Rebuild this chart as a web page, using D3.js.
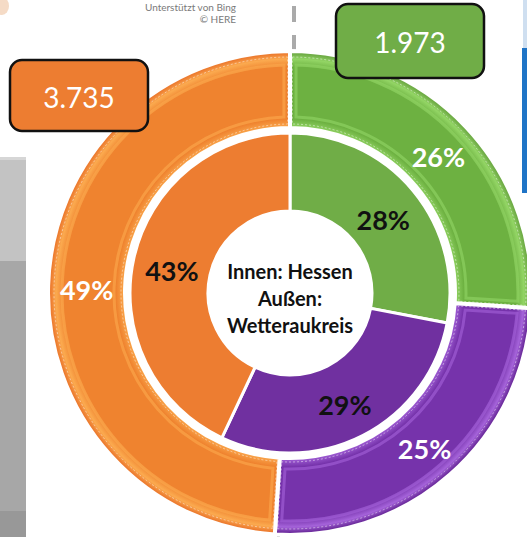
<!DOCTYPE html>
<html><head><meta charset="utf-8">
<script src="https://cdn.jsdelivr.net/npm/d3@7"></script>
<style>html,body{margin:0;padding:0;background:#fff;overflow:hidden}</style>
</head><body>
<svg id="chart" width="527" height="537"></svg>
<script>
// ---- data ----
const categories = ["Kategorie 1", "Kategorie 2", "Kategorie 3"]; // green, purple, orange (clockwise from top)
const innerValues = [28, 29, 43];   // Innen: Hessen (%)
const outerValues = [26, 25, 49];   // Außen: Wetteraukreis (%)
const outerTotals = ["1.973", null, "3.735"];
const centerLines = ["Innen: Hessen", "Außen:", "Wetteraukreis"];
const attribution = ["Unterstützt von Bing", "© HERE"];

const baseColors = ["#70AD47", "#7030A0", "#ED7D31"];
const edgeColors = ["#93D565", "#A563DA", "#FBAA4F"];
const panelColors = ["#6DB141", "#7633AB", "#EF832F"];

const svg = d3.select("#chart");
const cx = 290, cy = 293;
const rHole = 82, rInner = 160, rOuterIn = 165, rOuterOut = 242;

// ---- background page elements ----
svg.append("rect").attr("x", 0).attr("y", 157).attr("width", 26).attr("height", 104).attr("fill", "#c3c3c3");
svg.append("rect").attr("x", 0).attr("y", 157).attr("width", 26).attr("height", 3).attr("fill", "#d6d6d6");
svg.append("rect").attr("x", 0).attr("y", 261).attr("width", 26).attr("height", 250).attr("fill", "#a7a7a7");
svg.append("rect").attr("x", 0).attr("y", 511).attr("width", 26).attr("height", 26).attr("fill", "#989898");
svg.append("rect").attr("x", 523).attr("y", 0).attr("width", 4).attr("height", 48).attr("fill", "#cfdff0");
svg.append("rect").attr("x", 522).attr("y", 48).attr("width", 5).attr("height", 145).attr("fill", "#1f74c6");
svg.append("ellipse").attr("cx", 2).attr("cy", 6).attr("rx", 7).attr("ry", 9).attr("fill", "#f3d2b8").attr("opacity", 0.8);
svg.append("rect").attr("x", 292).attr("y", 6).attr("width", 4).attr("height", 16).attr("fill", "#aaaaaa");
svg.append("rect").attr("x", 292).attr("y", 35).attr("width", 4).attr("height", 16).attr("fill", "#aaaaaa");
svg.append("rect").attr("x", 277).attr("y", 528).attr("width", 3).attr("height", 9).attr("fill", "#aaaaaa");
svg.selectAll("text.attr").data(attribution).join("text")
  .attr("x", 236).attr("y", (d, i) => 11 + i * 12)
  .attr("text-anchor", "end")
  .attr("font-family", "Lato, 'Open Sans', sans-serif").attr("font-size", 10)
  .attr("fill", "#7a7a7a").text(d => d);

// ---- defs: radial gradients for beveled outer ring (group coordinates) ----
const defs = svg.append("defs");
categories.forEach((c, i) => {
  const gr = defs.append("radialGradient").attr("id", "grad" + i)
    .attr("gradientUnits", "userSpaceOnUse")
    .attr("cx", 0).attr("cy", 0).attr("r", rOuterOut);
  const stops = [
    [rOuterIn / rOuterOut, edgeColors[i]],
    [(rOuterIn + 9) / rOuterOut, panelColors[i]],
    [(rOuterOut - 16) / rOuterOut, panelColors[i]],
    [(rOuterOut - 8) / rOuterOut, edgeColors[i]],
    [(rOuterOut - 3) / rOuterOut, baseColors[i]],
    [1, baseColors[i]]
  ];
  stops.forEach(([o, col]) => gr.append("stop").attr("offset", o).attr("stop-color", col));
});

const pie = d3.pie().sort(null).value(d => d).startAngle(0).endAngle(2 * Math.PI);
const g = svg.append("g").attr("transform", `translate(${cx},${cy})`);

// ---- outer ring ----
const outerArcs = pie(outerValues);
const arcOuter = d3.arc().innerRadius(rOuterIn).outerRadius(rOuterOut);
g.selectAll("path.outer").data(outerArcs).join("path")
  .attr("class", "outer")
  .attr("d", arcOuter)
  .attr("fill", (d, i) => `url(#grad${i})`)
  .attr("stroke", "#fff").attr("stroke-width", 4);

// inner bevel panel outline
const arcPanel = d3.arc().innerRadius(rOuterIn + 11).outerRadius(rOuterOut - 14).padAngle(0.05).padRadius(rOuterOut);
g.selectAll("path.panel").data(outerArcs).join("path")
  .attr("d", arcPanel)
  .attr("fill", "none")
  .attr("stroke", (d, i) => edgeColors[i]).attr("stroke-width", 3).attr("opacity", 0.6);
const arcDash = d3.arc().innerRadius(rOuterIn + 4).outerRadius(rOuterOut - 6).padAngle(0.02).padRadius(rOuterOut);
g.selectAll("path.dash").data(outerArcs).join("path")
  .attr("d", arcDash)
  .attr("fill", "none")
  .attr("stroke", "#ffffff").attr("stroke-width", 0.8).attr("stroke-dasharray", "2,2").attr("opacity", 0.6);

// ---- inner ring ----
const innerArcs = pie(innerValues);
const arcInner = d3.arc().innerRadius(rHole).outerRadius(rInner);
g.selectAll("path.inner").data(innerArcs).join("path")
  .attr("d", arcInner)
  .attr("fill", (d, i) => baseColors[i])
  .attr("stroke", "#fff").attr("stroke-width", 3);

// ---- percentage labels ----
const arcOuterLbl = d3.arc().innerRadius((rOuterIn + rOuterOut) / 2).outerRadius((rOuterIn + rOuterOut) / 2);
const arcInnerLbl = d3.arc().innerRadius((rHole + rInner) / 2).outerRadius((rHole + rInner) / 2);
g.selectAll("text.ol").data(outerArcs).join("text")
  .attr("transform", d => { const [x, y] = arcOuterLbl.centroid(d); return `translate(${x},${y + 3})`; })
  .attr("text-anchor", "middle").attr("dominant-baseline", "central")
  .attr("font-family", "Lato, sans-serif").attr("font-weight", "bold").attr("font-size", 27)
  .attr("fill", "#fff").text(d => d.data + "%");
g.selectAll("text.il").data(innerArcs).join("text")
  .attr("transform", d => { const [x, y] = arcInnerLbl.centroid(d); return `translate(${x},${y + 4})`; })
  .attr("text-anchor", "middle").attr("dominant-baseline", "central")
  .attr("font-family", "Lato, sans-serif").attr("font-weight", "bold").attr("font-size", 27)
  .attr("fill", "#111").text(d => d.data + "%");

// ---- center text ----
g.selectAll("text.c").data(centerLines).join("text")
  .attr("x", 0).attr("y", (d, i) => -22 + i * 27)
  .attr("text-anchor", "middle").attr("dominant-baseline", "central")
  .attr("font-family", "Lato, sans-serif").attr("font-weight", "bold").attr("font-size", 20)
  .attr("fill", "#111").text(d => d);

// ---- value callout boxes ----
const boxes = [
  { idx: 2, x: 10, y: 60, w: 138, h: 71 },
  { idx: 0, x: 336, y: 4, w: 148, h: 74 }
];
boxes.forEach(b => {
  svg.append("rect").attr("x", b.x).attr("y", b.y).attr("width", b.w).attr("height", b.h)
    .attr("rx", 12).attr("ry", 12)
    .attr("fill", baseColors[b.idx]).attr("stroke", "#111").attr("stroke-width", 2.5);
  svg.append("text").attr("x", b.x + b.w / 2).attr("y", b.y + b.h / 2 + 1)
    .attr("text-anchor", "middle").attr("dominant-baseline", "central")
    .attr("font-family", "Lato, sans-serif").attr("font-size", 28)
    .attr("fill", "#fff").text(outerTotals[b.idx]);
});
</script>
</body></html>
